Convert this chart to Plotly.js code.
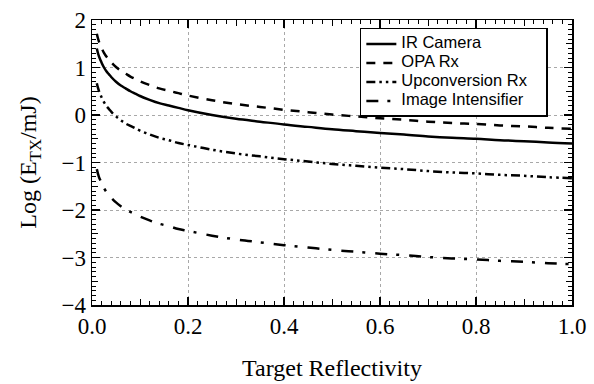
<!DOCTYPE html>
<html>
<head>
<meta charset="utf-8">
<script src="https://cdn.plot.ly/plotly-3.0.1.min.js"></script>
<style>html,body{margin:0;padding:0;background:#fff}#chart{width:594px;height:384px}</style>
</head>
<body>
<div id="chart"></div>
<script>
// Target reflectivity (x)
const reflectivity = [0.01, 0.0125, 0.015, 0.0175, 0.02, 0.025, 0.03, 0.035, 0.04, 0.05, 0.06, 0.07, 0.08, 0.09, 0.1, 0.12, 0.14, 0.16, 0.18, 0.2, 0.25, 0.3, 0.35, 0.4, 0.45, 0.5, 0.55, 0.6, 0.65, 0.7, 0.75, 0.8, 0.85, 0.9, 0.95, 1.0];
// Log(E_TX/mJ) per receiver
const irCamera = [1.40, 1.30, 1.22, 1.16, 1.10, 1.00, 0.92, 0.86, 0.80, 0.70, 0.62, 0.56, 0.50, 0.45, 0.40, 0.32, 0.25, 0.20, 0.15, 0.10, 0.00, -0.08, -0.14, -0.20, -0.25, -0.30, -0.34, -0.38, -0.41, -0.45, -0.48, -0.50, -0.53, -0.55, -0.58, -0.60];
const opaRx = [1.71, 1.61, 1.53, 1.47, 1.41, 1.31, 1.23, 1.17, 1.11, 1.01, 0.93, 0.87, 0.81, 0.76, 0.71, 0.63, 0.56, 0.51, 0.46, 0.41, 0.31, 0.23, 0.17, 0.11, 0.06, 0.01, -0.03, -0.07, -0.10, -0.14, -0.17, -0.19, -0.22, -0.24, -0.27, -0.29];
const upconversionRx = [0.67, 0.57, 0.49, 0.43, 0.37, 0.27, 0.19, 0.13, 0.07, -0.03, -0.11, -0.18, -0.23, -0.28, -0.33, -0.41, -0.48, -0.53, -0.59, -0.63, -0.73, -0.81, -0.87, -0.93, -0.98, -1.03, -1.07, -1.11, -1.14, -1.18, -1.21, -1.23, -1.26, -1.28, -1.31, -1.33];
const imageIntensifier = [-1.14, -1.24, -1.32, -1.38, -1.44, -1.54, -1.62, -1.68, -1.74, -1.84, -1.92, -1.99, -2.04, -2.09, -2.14, -2.22, -2.29, -2.34, -2.40, -2.44, -2.54, -2.62, -2.68, -2.74, -2.79, -2.84, -2.88, -2.92, -2.95, -2.99, -3.02, -3.04, -3.07, -3.09, -3.12, -3.14];
const seriesNames = ['IR Camera', 'OPA Rx', 'Upconversion Rx', 'Image Intensifier'];
const xTickVals = [0, 0.2, 0.4, 0.6, 0.8, 1.0];
const xTickText = ['0.0', '0.2', '0.4', '0.6', '0.8', '1.0'];
const yTickVals = [-4, -3, -2, -1, 0, 1, 2];

const serif = 'Liberation Serif, Times New Roman, serif';
const sans = 'Liberation Sans, Arial, sans-serif';
const legName = n => '<span style="font-size:16.5px">' + n + '&nbsp;&nbsp;&nbsp;</span>';

function mk(y, i, dash) {
  return {x: reflectivity, y: y, name: legName(seriesNames[i]), mode: 'lines',
    line: {color: '#000', width: 2.5, dash: dash, shape: 'spline', smoothing: 1}};
}

const traces = [
  mk(irCamera, 0, 'solid'),
  mk(opaRx, 1, '9px,8px'),
  mk(upconversionRx, 2, '9px,4px,2.5px,4px,2.5px,4px'),
  mk(imageIntensifier, 3, '12px,9px,3px,10px'),
  {x: [], y: [], xaxis: 'x2', yaxis: 'y2', showlegend: false, hoverinfo: 'skip', mode: 'lines'}
];

const layout = {
  width: 594, height: 384,
  margin: {l: 92, r: 22, t: 20, b: 79},
  paper_bgcolor: '#fff', plot_bgcolor: '#fff',
  showlegend: true,
  legend: {
    x: 0.558, y: 0.972, xanchor: 'left', yanchor: 'top',
    bgcolor: '#fff', bordercolor: '#000', borderwidth: 1.5,
    font: {family: sans, size: 11, color: '#000'},
    tracegroupgap: 0, itemwidth: 30
  },
  xaxis: {
    range: [0, 1], tickvals: xTickVals, ticktext: xTickText,
    ticks: 'inside', ticklen: 8, tickwidth: 1.5, tickcolor: '#000',
    showline: true, linecolor: '#000', linewidth: 1.5, mirror: 'ticks',
    showgrid: true, gridcolor: '#a8a8a8', gridwidth: 1, griddash: 'dot',
    zeroline: false,
    minor: {dtick: 0.02, tick0: 0, ticks: 'inside', ticklen: 4, tickwidth: 1, tickcolor: '#000', showgrid: false},
    tickfont: {family: serif, size: 23, color: '#000'},
    title: {text: 'Target Reflectivity', font: {family: serif, size: 24, color: '#000'}, standoff: 21},
    automargin: false
  },
  yaxis: {
    range: [-4, 2], tickvals: yTickVals,
    ticks: 'inside', ticklen: 8, tickwidth: 1.5, tickcolor: '#000',
    showline: true, linecolor: '#000', linewidth: 1.5, mirror: 'ticks',
    showgrid: true, gridcolor: '#a8a8a8', gridwidth: 1, griddash: 'dot',
    zeroline: false,
    minor: {dtick: 0.1, tick0: 0, ticks: 'inside', ticklen: 4, tickwidth: 1, tickcolor: '#000', showgrid: false},
    tickfont: {family: serif, size: 23, color: '#000'},
    title: {text: 'Log (E<sub>TX</sub>/mJ)', font: {family: serif, size: 24, color: '#000'}, standoff: 18},
    automargin: false
  },
  xaxis2: {
    overlaying: 'x', anchor: 'y', range: [0, 1], tickvals: [0.1, 0.3, 0.5, 0.7, 0.9],
    ticks: 'inside', ticklen: 6, tickwidth: 1, tickcolor: '#000', mirror: 'ticks',
    showticklabels: false, showgrid: false, zeroline: false, showline: false
  },
  yaxis2: {
    overlaying: 'y', anchor: 'x', side: 'left', range: [-4, 2], tickvals: [-3.5, -2.5, -1.5, -0.5, 0.5, 1.5],
    ticks: 'inside', ticklen: 6, tickwidth: 1, tickcolor: '#000', mirror: 'ticks',
    showticklabels: false, showgrid: false, zeroline: false, showline: false
  }
};

Plotly.newPlot('chart', traces, layout, {displayModeBar: false, staticPlot: true});
</script>
</body>
</html>
